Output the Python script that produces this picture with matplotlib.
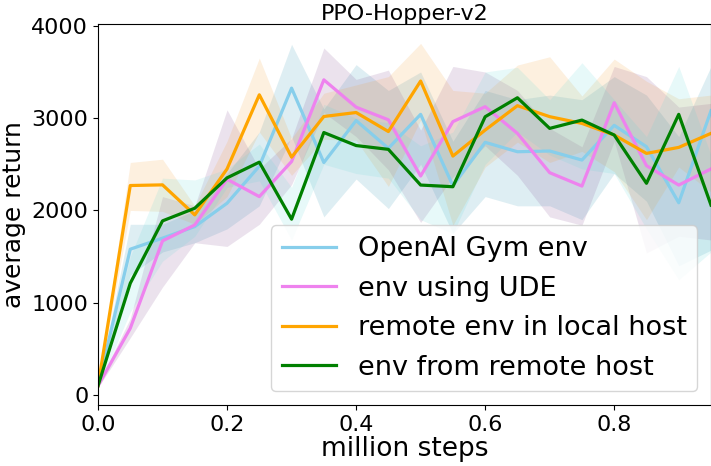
import numpy as np
import matplotlib
matplotlib.use("Agg")
import matplotlib.pyplot as plt

# million steps
steps = [0.0, 0.05, 0.1, 0.15, 0.2, 0.25, 0.3, 0.35, 0.4, 0.45,
         0.5, 0.55, 0.6, 0.65, 0.7, 0.75, 0.8, 0.85, 0.9, 0.95]

# OpenAI Gym env
gym_mean = [100, 1580, 1700, 1825, 2078, 2480, 3325, 2519, 2974, 2673,
            3041, 2268, 2738, 2636, 2644, 2546, 2922, 2690, 2083, 3080]
gym_low = [80, 1300, 1550, 1650, 1800, 2050, 2800, 1930, 2340, 2020,
           2500, 1750, 2150, 2050, 2050, 1900, 2400, 2100, 1400, 1570]
gym_high = [120, 1850, 1850, 2000, 2400, 2850, 3800, 3100, 3580, 3300,
            3500, 2750, 3300, 3200, 3250, 3200, 3450, 3250, 2800, 3560]

# env using UDE
ude_mean = [100, 723, 1670, 1843, 2338, 2150, 2530, 3415, 3119, 2982,
            2373, 2962, 3124, 2835, 2409, 2264, 3167, 2485, 2275, 2450]
ude_low = [80, 620, 1170, 1650, 1610, 1850, 2280, 3060, 2800, 2440,
           1870, 2360, 2700, 2380, 1930, 1840, 2750, 1540, 1720, 1680]
ude_high = [120, 830, 2150, 2050, 3090, 2450, 2780, 3760, 3420, 3520,
            2870, 3560, 3500, 3300, 2890, 2690, 3560, 3450, 3120, 3160]

# remote env in local host
local_mean = [100, 2270, 2277, 1952, 2450, 3253, 2577, 3018, 3061, 2855,
              3402, 2589, 2871, 3135, 3016, 2943, 2817, 2618, 2683, 2835]
local_low = [80, 2000, 1990, 1850, 2150, 2850, 2380, 2770, 2760, 2260,
             2980, 1840, 2470, 2740, 2520, 2640, 2420, 1900, 2470, 2200]
local_high = [120, 2520, 2555, 2050, 2750, 3650, 2780, 3270, 3360, 3450,
              3810, 3300, 3270, 3575, 3665, 3240, 3640, 3400, 3210, 3250]

# env from remote host
remote_mean = [100, 1211, 1887, 2024, 2353, 2523, 1905, 2844, 2703, 2662,
               2275, 2257, 3015, 3221, 2889, 2979, 2817, 2294, 3041, 2058]
remote_low = [80, 900, 1450, 1720, 2250, 2320, 1680, 2500, 2400, 2350,
              1900, 1750, 2500, 2850, 2600, 2450, 2400, 1800, 1250, 1550]
remote_high = [120, 1500, 2350, 2330, 2450, 2720, 2250, 3150, 3000, 2950,
               2700, 2850, 3500, 3550, 3200, 3600, 3200, 2800, 3560, 2600]

labels = ["OpenAI Gym env", "env using UDE", "remote env in local host", "env from remote host"]
line_colors = ["skyblue", "violet", "orange", "green"]
fill_colors = ["#2891af", "#7d418c", "#f59b2d", "#5fd7d7"]

fig = plt.figure(figsize=(7.11, 4.66), dpi=100)
ax = fig.add_axes([98 / 711, 61 / 466, 613 / 711, 381 / 466])

series = [
    (gym_mean, gym_low, gym_high),
    (ude_mean, ude_low, ude_high),
    (local_mean, local_low, local_high),
    (remote_mean, remote_low, remote_high),
]
for (m, lo, hi), fc in zip(series, fill_colors):
    ax.fill_between(steps, lo, hi, color=fc, alpha=0.15, linewidth=0)
for (m, lo, hi), lc, lab in zip(series, line_colors, labels):
    ax.plot(steps, m, color=lc, linewidth=2.3, label=lab)

ax.set_xlim(0, 0.95)
ax.set_ylim(-108, 4020)
ax.set_xticks([0.0, 0.2, 0.4, 0.6, 0.8])
ax.set_yticks([0, 1000, 2000, 3000, 4000])
ax.tick_params(labelsize=16)
ax.set_xlabel("million steps", fontsize=19, labelpad=1)
ax.set_ylabel("average return", fontsize=18)
ax.set_title("PPO-Hopper-v2", fontsize=16, pad=2)
ax.legend(loc="lower right", fontsize=19.5)

fig.savefig("out.png", dpi=100)
